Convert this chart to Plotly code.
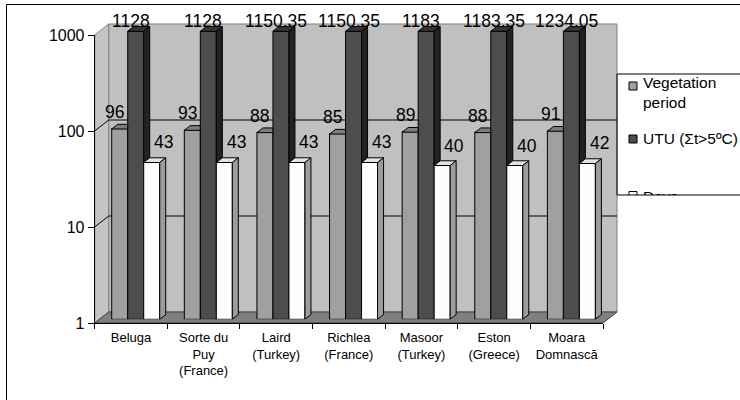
import math
import numpy as np
import plotly.graph_objects as go

# ---------------- data ----------------
categories = ["Beluga", "Sorte du<br>Puy<br>(France)", "Laird<br>(Turkey)", "Richlea<br>(France)",
              "Masoor<br>(Turkey)", "Eston<br>(Greece)", "Moara<br>Domnască"]
vegetation_period = [96, 93, 88, 85, 89, 88, 91]
utu_sum = [1128, 1128, 1150.35, 1150.35, 1183, 1183.35, 1234.05]
days_count = [43, 43, 43, 43, 40, 40, 42]
series_names = ["Vegetation<br>period", "UTU (Σt>5ºC)", "Days"]
y_tick_values = [1, 10, 100, 1000]
y_tick_labels = ["1", "10", "100", "1000"]

# ---------------- geometry / style ----------------
W, H = 740, 400
FONT = "Liberation Sans, Arial, sans-serif"
PPD = 96.0                       # pixels per decade on the value axis
FL, FR, FB = 94.7, 603.0, 323.0  # front plane: left, right, bottom (pixels)
N = len(categories)
CAT_PX = (FR - FL) / N
WALL_DX, WALL_DY = 14.0, 11.0    # back wall offset
BAR_DX, BAR_DY = 4.7, 3.7        # plane of the bar fronts
DEPTH_DX, DEPTH_DY = 6.0, 4.7    # depth of each bar
AXIS_MAX = 1000                  # value axis maximum (bars are cut there)
BAR_TOP_DEC = 3.3                # decades shown in the bar plane
BW = 16.0 / CAT_PX               # bar width in category units
LEG_L, LEG_T, LEG_B = 617.0, 74.0, 195.0   # legend box (pixels)
LEG_SQ_X, LEG_TX_X = 633.0, 643.0
LEG_SQ_Y = [86.0, 139.0, 195.5]
LEG_TX_Y = [94.5, 140.0, 198.0]


def px(x):
    return x / W


def py(y):
    return (H - y) / H


styles = [
    dict(front="#a0a0a0", top="#7d7d7d", side="#666666", lab_dx=-5, lab_dy=17),
    dict(front="#4d4d4d", top="#363636", side="#222222", lab_dx=-5, lab_dy=10),
    dict(front="#fdfdfd", top="#e4e4e4", side="#9c9c9c", lab_dx=12, lab_dy=20),
]
offsets = [-1.5 * BW, -0.5 * BW, 0.5 * BW]
series_values = [vegetation_period, utu_sum, days_count]
shown = [np.minimum(np.array(v, dtype=float), AXIS_MAX) for v in series_values]

dxu = DEPTH_DX / CAT_PX
k = 10 ** (DEPTH_DY / PPD)

fig = go.Figure()
annotations = []

# front plane carries the value and category axes
fig.add_trace(go.Scatter(x=[], y=[], xaxis="x2", yaxis="y2", mode="markers",
                         showlegend=False, hoverinfo="skip"))

for j, (name, vals, st, off) in enumerate(zip(series_names, series_values, styles, offsets)):
    h_arr = shown[j]
    nxt = shown[j + 1] if j + 1 < len(shown) else None
    xs = [i + off + BW / 2 for i in range(N)]
    fig.add_trace(go.Bar(
        x=xs, y=h_arr, base=1, width=BW, name=name.replace("<br>", " "),
        marker=dict(color=st["front"], line=dict(color="black", width=1)),
        xaxis="x3", yaxis="y3", hoverinfo="skip", showlegend=False,
    ))
    tx, ty, sx, sy = [], [], [], []
    for i in range(N):
        x0 = i + off
        x1 = x0 + BW
        h = h_arr[i]
        nh = nxt[i] if nxt is not None else None
        if nh is not None and nh >= h * k:
            pts = [(x0, h), (x0 + dxu, h * k), (x1, h * k), (x1, h), (x0, h)]
        else:
            pts = [(x0, h), (x0 + dxu, h * k), (x1 + dxu, h * k), (x1, h), (x0, h)]
        tx += [p[0] for p in pts] + [None]
        ty += [p[1] for p in pts] + [None]
        lower = nh if nh is not None else 1.0
        if lower < h:
            pts = [(x1, lower), (x1 + dxu, lower * k), (x1 + dxu, h * k), (x1, h), (x1, lower)]
            sx += [p[0] for p in pts] + [None]
            sy += [p[1] for p in pts] + [None]
    fig.add_trace(go.Scatter(x=tx, y=ty, mode="lines", fill="toself", fillcolor=st["top"],
                             line=dict(color="black", width=1), xaxis="x3", yaxis="y3",
                             showlegend=False, hoverinfo="skip"))
    if sx:
        fig.add_trace(go.Scatter(x=sx, y=sy, mode="lines", fill="toself", fillcolor=st["side"],
                                 line=dict(color="black", width=1), xaxis="x3", yaxis="y3",
                                 showlegend=False, hoverinfo="skip"))
    for i in range(N):
        annotations.append(dict(
            x=xs[i], y=math.log10(h_arr[i]), xref="x3", yref="y3", text=f"{vals[i]:g}",
            showarrow=False, xshift=st["lab_dx"], yshift=st["lab_dy"], yanchor="middle",
            font=dict(size=17.5, family=FONT, color="black"),
        ))

# legend (drawn in its own small panel so that the last entry is cut by the box, as in the original)
fig.add_trace(go.Scatter(
    x=[LEG_SQ_X] * 3, y=LEG_SQ_Y, mode="markers", xaxis="x4", yaxis="y4",
    marker=dict(symbol="square", size=8, color=[s["front"] for s in styles],
                line=dict(color="black", width=1)),
    cliponaxis=True, showlegend=False, hoverinfo="skip"))
fig.add_trace(go.Scatter(
    x=[LEG_TX_X] * 3, y=LEG_TX_Y, mode="text", text=series_names, textposition="middle right",
    textfont=dict(size=15.5, family=FONT, color="black"), xaxis="x4", yaxis="y4",
    cliponaxis=True, showlegend=False, hoverinfo="skip"))

shapes = []
# back wall
shapes.append(dict(type="rect", xref="paper", yref="paper",
                   x0=px(FL + WALL_DX), x1=px(FR + WALL_DX),
                   y0=py(FB - WALL_DY), y1=py(FB - WALL_DY - 3 * PPD),
                   fillcolor="#c0c0c0", line=dict(color="#808080", width=1), layer="below"))
# left wall
lw = (f"M{px(FL)},{py(FB)} L{px(FL)},{py(FB - 3 * PPD)} "
      f"L{px(FL + WALL_DX)},{py(FB - 3 * PPD - WALL_DY)} L{px(FL + WALL_DX)},{py(FB - WALL_DY)} Z")
shapes.append(dict(type="path", xref="paper", yref="paper", path=lw,
                   fillcolor="#c4c4c4", line=dict(color="#808080", width=1), layer="below"))
# floor
fl = (f"M{px(FL)},{py(FB)} L{px(FR)},{py(FB)} L{px(FR + WALL_DX)},{py(FB - WALL_DY)} "
      f"L{px(FL + WALL_DX)},{py(FB - WALL_DY)} Z")
shapes.append(dict(type="path", xref="paper", yref="paper", path=fl,
                   fillcolor="#808080", line=dict(color="#404040", width=1), layer="below"))
# grid lines: across the left wall and along the back wall
for v in y_tick_values[1:-1]:
    yf = FB - math.log10(v) * PPD
    shapes.append(dict(type="path", xref="paper", yref="paper",
                       path=(f"M{px(FL)},{py(yf)} L{px(FL + WALL_DX)},{py(yf - WALL_DY)} "
                             f"L{px(FR + WALL_DX)},{py(yf - WALL_DY)}"),
                       line=dict(color="black", width=1), layer="below"))
# legend box (its right side lies outside the picture)
shapes.append(dict(type="path", xref="paper", yref="paper",
                   path=(f"M1.05,{py(LEG_T)} L{px(LEG_L)},{py(LEG_T)} "
                         f"L{px(LEG_L)},{py(LEG_B)} L1.05,{py(LEG_B)}"),
                   line=dict(color="black", width=1), layer="above"))
# outer chart border
shapes.append(dict(type="rect", xref="paper", yref="paper", x0=px(6.5), x1=1.05,
                   y0=py(4.5), y1=-0.05, line=dict(color="black", width=1),
                   fillcolor="rgba(0,0,0,0)", layer="above"))

fig.update_layout(
    width=W, height=H,
    margin=dict(l=0, r=0, t=0, b=0, autoexpand=False),
    paper_bgcolor="white", plot_bgcolor="rgba(0,0,0,0)",
    barmode="overlay",
    font=dict(family=FONT, color="black"),
    showlegend=False,
    # front plane (axes)
    xaxis2=dict(domain=[px(FL), px(FR)], range=[-0.5, N - 0.5], anchor="y2",
                tickmode="array", tickvals=list(range(N)), ticktext=categories,
                ticks="", showline=True, linecolor="black", linewidth=1, showgrid=False,
                zeroline=False, tickfont=dict(size=13, family=FONT), ticklabelstandoff=2,
                minor=dict(tickmode="array", tickvals=[i - 0.5 for i in range(N + 1)],
                           ticks="outside", ticklen=5, tickcolor="black", showgrid=False)),
    yaxis2=dict(domain=[py(FB), py(FB - 3 * PPD)], type="log", range=[0, 3], anchor="x2",
                tickmode="array", tickvals=y_tick_values, ticktext=y_tick_labels,
                ticks="outside", ticklen=6, tickcolor="black", showline=True,
                linecolor="black", linewidth=1, showgrid=False, zeroline=False,
                tickfont=dict(size=16, family=FONT)),
    # bar plane
    xaxis3=dict(domain=[px(FL + BAR_DX), px(FR + BAR_DX)], range=[-0.5, N - 0.5],
                anchor="y3", visible=False),
    yaxis3=dict(domain=[py(FB - BAR_DY), py(FB - BAR_DY - BAR_TOP_DEC * PPD)], type="log",
                range=[0, BAR_TOP_DEC], anchor="x3", visible=False),
    # legend panel, in picture pixels
    xaxis4=dict(domain=[px(LEG_L), 1.0], range=[LEG_L, W], anchor="y4", visible=False),
    yaxis4=dict(domain=[py(LEG_B), py(LEG_T)], range=[LEG_B, LEG_T], anchor="x4",
                visible=False),
    shapes=shapes,
    annotations=annotations,
)

fig.write_html("out.html")
